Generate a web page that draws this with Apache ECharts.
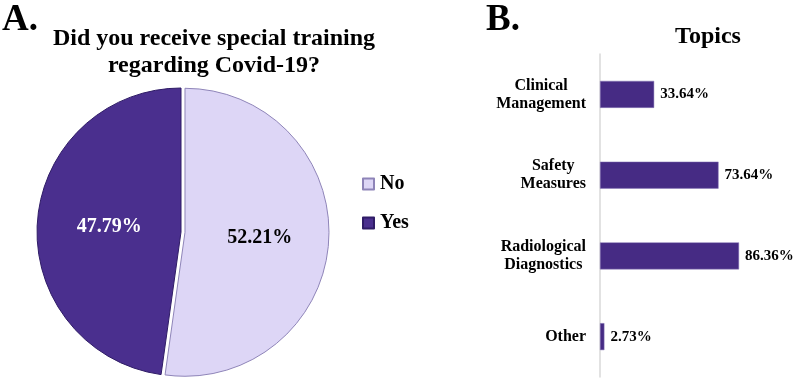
<!DOCTYPE html>
<html>
<head>
<meta charset="utf-8">
<script src="https://cdn.jsdelivr.net/npm/echarts@6/dist/echarts.min.js"></script>
<style>
  html, body { margin: 0; padding: 0; background: #fff; }
  #chart { width: 800px; height: 378px; }
</style>
</head>
<body>
<div id="chart"></div>
<script>
// Panel A: did you receive training
const pieNames = ['No', 'Yes'];
const pieValues = [52.21, 47.79];
const pieColors = ['#ddd6f6', '#4a2f8e'];

// Panel B: topics
const topics = ['Clinical\nManagement', 'Safety\nMeasures', 'Radiological\nDiagnostics', 'Other'];
const topicValues = [33.64, 73.64, 86.36, 2.73];

const serif = '"Liberation Serif", "Times New Roman", serif';

const chart = echarts.init(document.getElementById('chart'));

const option = {
    animation: false,
    title: [
        {
            text: 'A.', left: 2, top: 2, padding: 0,
            textStyle: { fontFamily: serif, fontSize: 37, fontWeight: 'bold', color: '#000' }
        },
        {
            text: 'Did you receive special training\nregarding Covid-19?',
            left: 214, top: 25, padding: 0, textAlign: 'center',
            textStyle: { fontFamily: serif, fontSize: 24, lineHeight: 27, fontWeight: 'bold', color: '#000' }
        },
        {
            text: 'B.', left: 486, top: 2, padding: 0,
            textStyle: { fontFamily: serif, fontSize: 37, fontWeight: 'bold', color: '#000' }
        },
        {
            text: 'Topics', left: 708, top: 25, padding: 0, textAlign: 'center',
            textStyle: { fontFamily: serif, fontSize: 24, fontWeight: 'bold', color: '#000' }
        }
    ],
    legend: {
        data: pieNames,
        orient: 'vertical',
        left: 362,
        top: 174,
        padding: 0,
        itemWidth: 11,
        itemHeight: 11,
        itemGap: 19,
        icon: 'rect',
        textStyle: { fontFamily: serif, fontSize: 20, fontWeight: 'bold', color: '#000', padding: [0, 0, 0, 1] }
    },
    grid: { left: 600, right: 39, top: 54, bottom: 1 },
    xAxis: { type: 'value', min: 0, max: 100, show: false },
    yAxis: {
        type: 'category',
        data: topics,
        inverse: true,
        axisTick: { show: false },
        axisLine: { lineStyle: { color: '#d9d9d9', width: 1.5 } },
        axisLabel: {
            margin: 14,
            formatter: v => v.split('\n').map(s => '{c|' + s + '}').join('\n'),
            rich: {
                c: { align: 'center', fontFamily: serif, fontSize: 16, fontWeight: 'bold', color: '#000', lineHeight: 18 }
            }
        }
    },
    series: [
        {
            name: 'Training',
            type: 'pie',
            center: [181, 232],
            radius: [0, 144],
            startAngle: 90,
            clockwise: true,
            selectedMode: 'single',
            selectedOffset: 4,
            label: {
                position: 'inside',
                formatter: p => p.value.toFixed(2) + '%',
                fontFamily: serif,
                fontSize: 20,
                fontWeight: 'bold'
            },
            labelLine: { show: false },
            emphasis: { disabled: true },
            data: pieNames.map((n, i) => ({
                name: n,
                value: pieValues[i],
                selected: i === 0,
                itemStyle: {
                    color: pieColors[i],
                    borderColor: i === 0 ? '#8e84b8' : '#2f1c66',
                    borderWidth: 1
                },
                label: { color: i === 0 ? '#000' : '#fff', offset: i === 0 ? [-2, 0] : [3, 0] }
            }))
        },
        {
            name: 'Topics',
            type: 'bar',
            barWidth: 27,
            data: topicValues,
            itemStyle: { color: '#462b84', borderColor: '#8a7bb8', borderWidth: 0.5 },
            label: {
                show: true,
                position: 'right',
                distance: 6,
                formatter: p => p.value.toFixed(2) + '%',
                fontFamily: serif,
                fontSize: 15,
                fontWeight: 'bold',
                color: '#000'
            }
        }
    ]
};

chart.setOption(option);
</script>
</body>
</html>
